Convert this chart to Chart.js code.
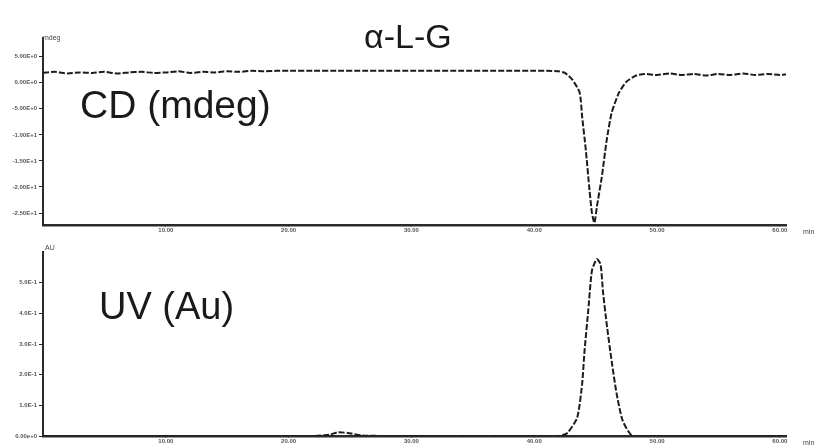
<!DOCTYPE html>
<html>
<head>
<meta charset="utf-8">
<script src="https://cdn.jsdelivr.net/npm/chart.js@4.4.1/dist/chart.umd.min.js"></script>
<style>
  body { margin: 0; background: #fff; }
  #wrap { position: relative; width: 821px; height: 447px; overflow: hidden; font-family: "Liberation Sans", Arial, sans-serif; color: #1a1a1a; }
  .box { position: absolute; left: 0; width: 821px; }
  .lbl { position: absolute; white-space: nowrap; line-height: 1; }
  .unit { position: absolute; font-size: 7px; color: #444; line-height: 1; }
</style>
</head>
<body>
<div id="wrap">
  <div class="box" style="top:0;height:240px"><canvas id="cdChart"></canvas></div>
  <div class="box" style="top:240px;height:207px"><canvas id="uvChart"></canvas></div>

  <div class="lbl" style="left:364px;top:19px;font-size:34px">α-L-G</div>
  <div class="lbl" style="left:80px;top:85px;font-size:39px">CD (mdeg)</div>
  <div class="lbl" style="left:99px;top:287px;font-size:38px">UV (Au)</div>

  <div class="unit" style="left:43px;top:34px">mdeg</div>
  <div class="unit" style="left:45px;top:244px">AU</div>
  <div class="unit" style="left:803px;top:228px">min</div>
  <div class="unit" style="left:803px;top:439px">min</div>
</div>

<script>
// x ticks (min)
const timeTicks = [10, 20, 30, 40, 50, 60];

// CD trace
const cdTime = [0, 1, 2, 3, 4, 5, 6, 7, 8, 9, 10, 11, 12, 13, 14, 15, 16, 17, 18, 19, 20,
  22, 24, 26, 28, 30, 32, 34, 36, 38, 40, 41, 42, 42.5,
  43.1, 43.7, 43.9, 44.2, 44.5, 44.7, 44.9, 45.1, 45.5, 45.9, 46.3, 46.9, 47.5, 48.3,
  49, 50, 51, 52, 53, 54, 55, 56, 57, 58, 59, 60, 60.5];
const cdValue = [1.9, 2.1, 1.8, 2.0, 1.9, 2.1, 1.8, 2.0, 2.1, 1.9, 2.0, 2.2, 1.9, 2.1, 2.0, 2.2, 2.1, 2.3, 2.2, 2.3, 2.3,
  2.3, 2.3, 2.3, 2.3, 2.3, 2.3, 2.3, 2.3, 2.3, 2.3, 2.3, 2.2, 1.9,
  0.6, -1.9, -6.5, -12.9, -20.6, -25.0, -26.9, -23.8, -18.1, -11.0, -5.8, -1.9, 0.2, 1.4,
  1.7, 1.5, 1.8, 1.5, 1.7, 1.4, 1.7, 1.5, 1.8, 1.5, 1.7, 1.5, 1.6];
const cdTicks = [5, 0, -5, -10, -15, -20, -25];

// UV trace
const uvTime = [0, 5, 10, 15, 20, 22, 23.3, 24, 24.8, 26, 28, 32, 36, 40, 42,
  42.7, 43.5, 43.9, 44.1, 44.4, 44.7, 45.1, 45.4, 45.6, 45.9, 46.3, 46.7, 47.2, 48,
  50, 55, 60, 60.5];
const uvValue = [0, 0, 0, 0, 0, 0, 0.004, 0.012, 0.01, 0.002, 0, 0, 0, 0, 0,
  0.01, 0.06, 0.17, 0.28, 0.41, 0.54, 0.577, 0.56, 0.47, 0.365, 0.245, 0.14, 0.05, 0,
  0, 0, 0, 0];
const uvTicks = [0, 0.1, 0.2, 0.3, 0.4, 0.5];

const lineColor = "#1c1c1c";
const axisColor = "#2a2a2a";
const tickFont = { family: "Liberation Sans", size: 6, weight: "bold" };

function toPoints(xs, ys) {
  return xs.map((x, i) => ({ x: x, y: ys[i] }));
}

function fixedTicks(list) {
  return (scale) => {
    scale.ticks = list.map((v) => ({ value: v }));
  };
}

function makeChart(id, points, yMin, yMax, yTicks, yFmt, pad) {
  const ctx = document.getElementById(id).getContext("2d");
  return new Chart(ctx, {
    type: "line",
    data: {
      datasets: [
        {
          data: points,
          borderColor: lineColor,
          borderWidth: 2,
          borderDash: [6, 2],
          pointRadius: 0,
          tension: 0.2,
          fill: false,
        },
      ],
    },
    options: {
      responsive: true,
      maintainAspectRatio: false,
      animation: false,
      layout: { padding: pad },
      plugins: {
        legend: { display: false },
        tooltip: { enabled: false },
      },
      scales: {
        x: {
          type: "linear",
          min: 0,
          max: 60.5,
          afterBuildTicks: fixedTicks(timeTicks),
          afterFit: (s) => { s.height = pad.xh; },
          border: { display: true, color: axisColor, width: 2.5 },
          grid: { drawOnChartArea: false, drawTicks: true, tickLength: 2, color: axisColor },
          ticks: {
            padding: 0,
            maxRotation: 0,
            color: "#555",
            font: tickFont,
            callback: (v) => v.toFixed(2),
          },
        },
        y: {
          min: yMin,
          max: yMax,
          afterBuildTicks: fixedTicks(yTicks),
          afterFit: (s) => { s.width = 43; },
          border: { display: true, color: axisColor, width: 2 },
          grid: { drawOnChartArea: false, drawTicks: true, tickLength: 4, color: axisColor },
          ticks: {
            padding: 2,
            color: "#555",
            font: tickFont,
            callback: yFmt,
          },
        },
      },
    },
  });
}

const cdChart = makeChart(
  "cdChart",
  toPoints(cdTime, cdValue),
  -27.3, 8.6, cdTicks,
  (v) => v.toExponential(2).toUpperCase(),
  { left: 0, right: 35, top: 38, bottom: 0, xh: 15 }
);

const uvChart = makeChart(
  "uvChart",
  toPoints(uvTime, uvValue),
  0, 0.6, uvTicks,
  (v) => (v === 0 ? "0.00e+0" : v.toExponential(1).toUpperCase()),
  { left: 0, right: 35, top: 12, bottom: 0, xh: 11 }
);
</script>
</body>
</html>
